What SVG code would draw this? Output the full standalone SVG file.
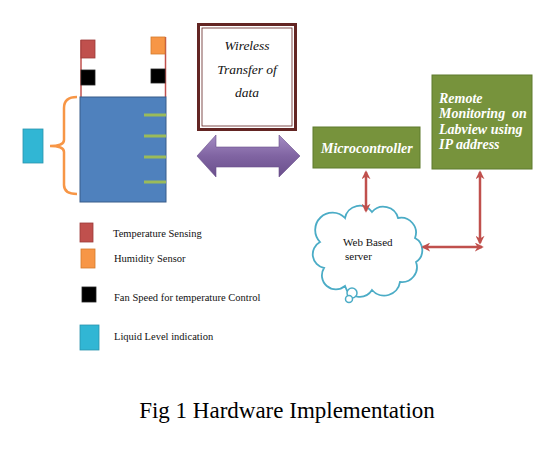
<svg xmlns="http://www.w3.org/2000/svg" width="541" height="450" viewBox="0 0 541 450">
<style>
.leg{font-family:"Liberation Serif",serif;font-size:10.5px;fill:#111}
.wt{font-family:"Liberation Serif",serif;font-style:italic;font-size:13.5px;fill:#111;text-anchor:middle}
.gt{font-family:"Liberation Serif",serif;font-style:italic;font-weight:bold;font-size:14px;fill:#fff}
.red{fill:#c0504d;stroke:#9c3b39;stroke-width:0.8}
.org{fill:#f79646;stroke:#d47a2c;stroke-width:0.8}
.blk{fill:#000;stroke:#222;stroke-width:0.8}
.cyn{fill:#31b6d4;stroke:#2a93ad;stroke-width:0.8}
.grn{fill:#77933c;stroke:#5f7a2c;stroke-width:1}
.conn{stroke:#c0504d;stroke-width:2.5;fill:none;marker-start:url(#ah);marker-end:url(#ah)}
</style>
<defs>
<marker id="ah" viewBox="0 0 10 10" refX="8" refY="5" markerWidth="3.6" markerHeight="3.6" orient="auto-start-reverse" markerUnits="strokeWidth">
<path d="M0,0 L10,5 L0,10 L3,5 Z" fill="#c0504d"/>
</marker>
<linearGradient id="pg" x1="0" y1="0" x2="0" y2="1">
<stop offset="0" stop-color="#a48cc4"/>
<stop offset="0.5" stop-color="#8064a2"/>
<stop offset="1" stop-color="#6a4f8c"/>
</linearGradient>
</defs>
<rect width="541" height="450" fill="#fff"/>

<g id="tank">
<line x1="81" y1="40" x2="81" y2="97" stroke="#c0504d" stroke-width="1.5"/>
<line x1="165.5" y1="37" x2="165.5" y2="97" stroke="#c0504d" stroke-width="1.5"/>
<rect class="red" x="81" y="40" width="14" height="18"/>
<rect class="org" x="151" y="37" width="14" height="17"/>
<rect class="blk" x="81" y="70" width="14" height="15"/>
<rect class="blk" x="151" y="69" width="14" height="14"/>
<rect x="80" y="97" width="86" height="105" fill="#4f81bd" stroke="#385d8a" stroke-width="1"/>
<g stroke="#9bbb59" stroke-width="3">
<line x1="144" y1="115" x2="166" y2="115"/>
<line x1="144" y1="136" x2="166" y2="136"/>
<line x1="144" y1="157" x2="166" y2="157"/>
<line x1="144" y1="182" x2="166" y2="182"/>
</g>
<path d="M77,97 Q64,97 64,108 L64,140 Q64,146 50,146 Q64,146 64,152 L64,185 Q64,194 77,194" fill="none" stroke="#f79646" stroke-width="2.5"/>
<rect class="cyn" x="23" y="129" width="20" height="34"/>
</g>

<g id="wireless">
<rect x="198.5" y="24.5" width="97" height="105" fill="#fff" stroke="#632523" stroke-width="3"/>
<rect x="202" y="28" width="90" height="98" fill="none" stroke="#632523" stroke-width="0.8"/>
<text class="wt" x="247" y="50">Wireless</text>
<text class="wt" x="247" y="74">Transfer of</text>
<text class="wt" x="247" y="97">data</text>
</g>

<g id="purple-arrow">
<path d="M197,156 L216,135 L216,147 L279,147 L279,135 L300,156 L279,177 L279,167 L216,167 L216,177 Z" fill="url(#pg)" stroke="#6a4f8c" stroke-width="0.6"/>
</g>

<g id="microcontroller">
<rect class="grn" x="313" y="127" width="107" height="41"/>
<text class="gt" x="321" y="153">Microcontroller</text>
</g>

<g id="remote">
<rect class="grn" x="432" y="75" width="100" height="94"/>
<text class="gt" x="439" y="103">Remote</text>
<text class="gt" x="439" y="118">Monitoring</text>
<text class="gt" x="512" y="118">on</text>
<text class="gt" x="439" y="134">Labview using</text>
<text class="gt" x="439" y="149">IP address</text>
</g>

<g id="server">
<path d="M345,218 A15,15 0 0 1 372,212 A15,15 0 0 1 398,218 A15,15 0 0 1 415,238 A14,14 0 0 1 416,262 A15,15 0 0 1 400,282 A16,16 0 0 1 372,290 A15,15 0 0 1 345,286 A14,14 0 0 1 324,268 A14,14 0 0 1 320,242 A15,15 0 0 1 345,218 Z" fill="#fff" stroke="#4bacc6" stroke-width="1.8"/>
<circle cx="352" cy="293" r="5" fill="#fff" stroke="#4bacc6" stroke-width="1.5"/>
<circle cx="349" cy="299" r="3.5" fill="#fff" stroke="#4bacc6" stroke-width="1.5"/>
<text x="343" y="246" font-family="Liberation Serif,serif" font-size="11px" fill="#111">Web Based</text>
<text x="345" y="260" font-family="Liberation Serif,serif" font-size="11px" fill="#111">server</text>
</g>

<g id="connectors">
<line class="conn" x1="366" y1="172" x2="366" y2="211"/>
<line class="conn" x1="480" y1="172" x2="480" y2="243"/>
<line class="conn" x1="423" y1="247" x2="482" y2="247"/>
</g>

<g id="legend">
<rect class="red" x="80" y="223" width="13" height="19"/>
<text class="leg" x="113" y="237">Temperature Sensing</text>
<rect class="org" x="81" y="249" width="14" height="19"/>
<text class="leg" x="114" y="262">Humidity Sensor</text>
<rect class="blk" x="82" y="287" width="14" height="15"/>
<text class="leg" x="114" y="301">Fan Speed for temperature Control</text>
<rect class="cyn" x="80" y="325" width="19" height="25"/>
<text class="leg" x="114" y="340">Liquid Level indication</text>
</g>

<text x="287" y="418" font-family="Liberation Serif,serif" font-size="23px" fill="#000" text-anchor="middle">Fig 1 Hardware Implementation</text>
</svg>
